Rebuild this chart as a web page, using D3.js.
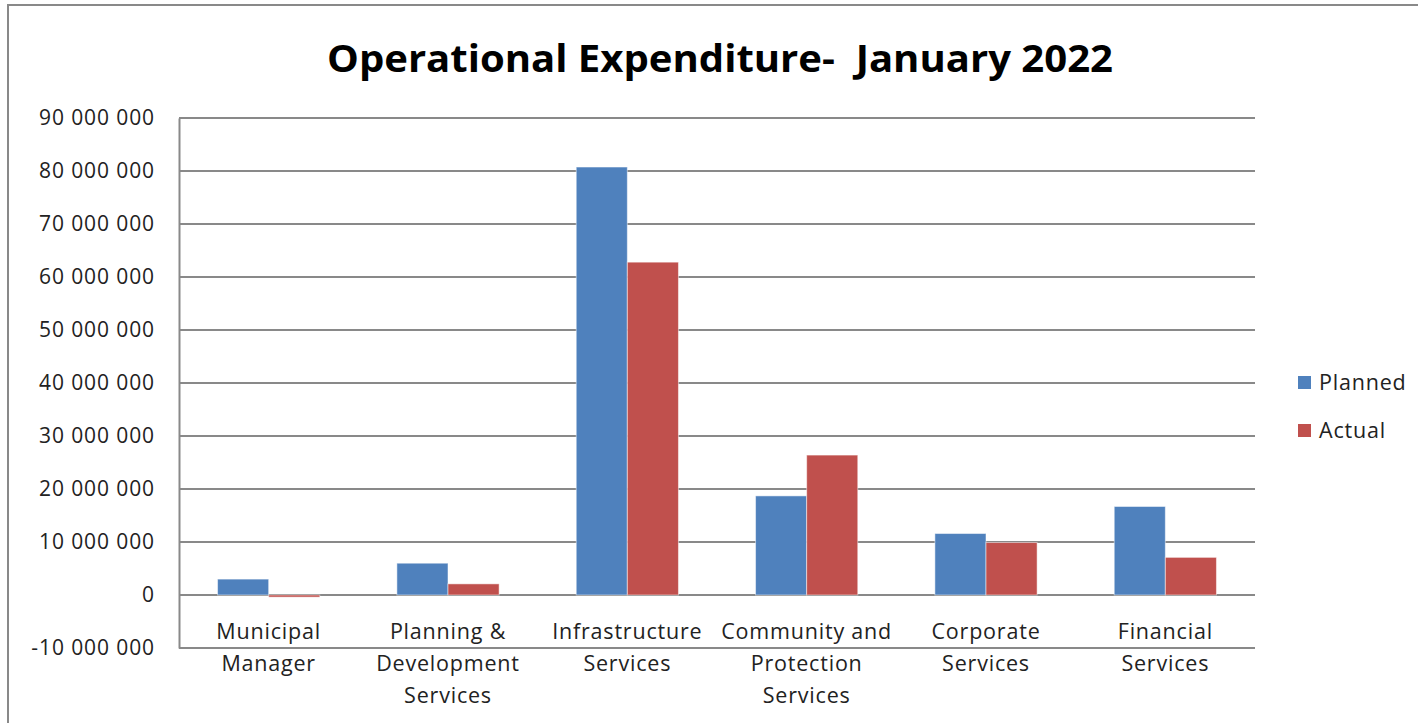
<!DOCTYPE html>
<html><head><meta charset="utf-8">
<script src="https://cdn.jsdelivr.net/npm/d3@7"></script>
<style>body{margin:0;background:#fff}svg{display:block}</style>
</head><body>
<script>
const categories = [["Municipal","Manager"],["Planning &","Development","Services"],["Infrastructure","Services"],["Community and","Protection","Services"],["Corporate","Services"],["Financial","Services"]];
const seriesNames = ["Planned","Actual"];
const planned = [3000000, 6000000, 80750000, 18700000, 11600000, 16700000];
const actual = [-400000, 2100000, 62800000, 26400000, 9900000, 7100000];
const yTicks = [-10000000,0,10000000,20000000,30000000,40000000,50000000,60000000,70000000,80000000,90000000];
const colors = ["#4F81BD","#C0504D"];
const title = "Operational Expenditure-  January 2022";

const W=1418,H=723;
const svg=d3.select("body").append("svg").attr("width",W).attr("height",H);
const font="Open Sans, Noto Sans, sans-serif";
svg.append("rect").attr("x",8).attr("y",5).attr("width",W+10).attr("height",H+10).attr("fill","#fff").attr("stroke","#898989").attr("stroke-width",2);

const x0=d3.scaleBand().domain(d3.range(categories.length)).range([179,1255]).paddingInner(0.43).paddingOuter(0.215);
const x1=d3.scaleBand().domain([0,1]).range([0,x0.bandwidth()]);
const y=d3.scaleLinear().domain([-10000000,90000000]).range([648,118]);

const fmt=v=>d3.format(",")(v).replace(/,/g," ").replace("\u2212","-");
// gridlines
svg.append("g").selectAll("line").data(yTicks).join("line")
  .attr("x1",179).attr("x2",1255).attr("y1",d=>y(d)).attr("y2",d=>y(d))
  .attr("stroke","#898989").attr("stroke-width",2);
// y axis
const ya=svg.append("g").attr("transform","translate(179,0)").call(d3.axisLeft(y).tickValues(yTicks).tickFormat(fmt).tickSize(0).tickPadding(24));
ya.select(".domain").attr("stroke","#898989").attr("stroke-width",2);
ya.selectAll("text").attr("font-family",font).attr("font-size",21).attr("letter-spacing",0.9).attr("fill","#222");

// bars
const data=categories.map((c,i)=>[planned[i],actual[i]]);
const g=svg.append("g").selectAll("g").data(data).join("g").attr("transform",(d,i)=>`translate(${x0(i)},0)`);
g.selectAll("rect").data(d=>d).join("rect")
  .attr("x",(d,j)=>x1(j)).attr("width",x1.bandwidth())
  .attr("y",d=>y(Math.max(0,d))).attr("height",d=>Math.abs(y(d)-y(0)))
  .attr("fill",(d,j)=>colors[j]).attr("stroke","rgba(255,255,255,0.5)").attr("stroke-width",1);

// category labels
const cl=svg.append("g").selectAll("text").data(categories).join("text")
  .attr("x",(d,i)=>x0(i)+x0.bandwidth()/2).attr("y",639)
  .attr("text-anchor","middle").attr("font-family",font).attr("font-size",21.5).attr("letter-spacing",0.8).attr("fill","#222");
cl.selectAll("tspan").data(d=>d).join("tspan").attr("x",function(){return this.parentNode.getAttribute("x");})
  .attr("dy",(d,i)=>i===0?0:32).text(d=>d);

// title
svg.append("text").attr("x",720).attr("y",72).attr("text-anchor","middle")
  .attr("font-family",font).attr("font-weight","bold").attr("font-size",38).attr("fill","#000")
  .attr("textLength",786).attr("lengthAdjust","spacingAndGlyphs").style("white-space","pre").text(title);

// legend
const lg=svg.append("g").selectAll("g").data(seriesNames).join("g").attr("transform",(d,i)=>`translate(1298,${376+i*48})`);
lg.append("rect").attr("width",13).attr("height",13).attr("fill",(d,i)=>colors[i]);
lg.append("text").attr("x",21).attr("y",14).attr("font-family",font).attr("font-size",21.5).attr("letter-spacing",0.8).attr("fill","#222").text(d=>d);
</script>
</body></html>
